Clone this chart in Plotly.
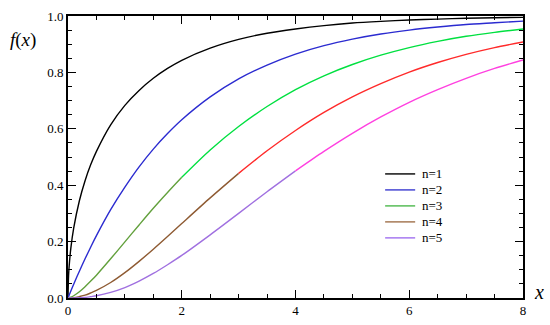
import plotly.graph_objects as go

# x positions at which the curves were read
x_vals = [0, 0.01, 0.02, 0.05, 0.1, 0.2, 0.3, 0.4, 0.5, 0.75, 1, 1.25, 1.5, 1.75,
          2, 2.5, 3, 3.5, 4, 4.5, 5, 5.5, 6, 6.5, 7, 7.5, 8]

n1 = [0, 0.080, 0.112, 0.177, 0.248, 0.345, 0.416, 0.473, 0.520, 0.614, 0.683, 0.736,
      0.779, 0.814, 0.843, 0.886, 0.917, 0.939, 0.954, 0.966, 0.975, 0.981, 0.986,
      0.989, 0.992, 0.994, 0.995]
n2 = [0, 0.005, 0.010, 0.025, 0.049, 0.095, 0.139, 0.181, 0.221, 0.313, 0.393, 0.465,
      0.528, 0.583, 0.632, 0.713, 0.777, 0.826, 0.865, 0.895, 0.918, 0.936, 0.950,
      0.961, 0.970, 0.976, 0.982]
n3 = [0, 0.0003, 0.0008, 0.003, 0.008, 0.022, 0.040, 0.060, 0.081, 0.139, 0.199, 0.259,
      0.318, 0.374, 0.428, 0.525, 0.608, 0.679, 0.739, 0.788, 0.828, 0.861, 0.888,
      0.910, 0.928, 0.942, 0.954]
n4 = [0, 0.0000, 0.0001, 0.0003, 0.001, 0.005, 0.010, 0.018, 0.027, 0.055, 0.090, 0.130,
      0.173, 0.218, 0.264, 0.355, 0.442, 0.522, 0.594, 0.658, 0.713, 0.760, 0.801,
      0.835, 0.864, 0.888, 0.908]
n5 = [0, 0.0000, 0.0000, 0.0001, 0.0002, 0.001, 0.002, 0.005, 0.008, 0.020, 0.037, 0.060,
      0.087, 0.118, 0.151, 0.224, 0.300, 0.377, 0.451, 0.520, 0.584, 0.642, 0.694,
      0.739, 0.779, 0.814, 0.844]

series_names = ["n=1", "n=2", "n=3", "n=4", "n=5"]
series_vals = [n1, n2, n3, n4, n5]
# lower-part colour and upper-part colour of each curve, plus legend swatch colour
low_colors = ["#000000", "#2b2bd0", "#62a03c", "#8e5a32", "#a070e0"]
high_colors = ["#000000", "#2b2bd0", "#00e040", "#ff2a2a", "#ff40e0"]
legend_colors = ["#000000", "#3a3ad0", "#4cb84c", "#a0704a", "#a070f0"]
# x at which each curve changes colour
split_x = [8, 8, 2, 3, 4]

serif = "Liberation Serif, Times New Roman, serif"

fig = go.Figure()
for name, ys, lc, hc, sx in zip(series_names, series_vals, low_colors, high_colors, split_x):
    lx = [x for x in x_vals if x <= sx]
    ly = [y for x, y in zip(x_vals, ys) if x <= sx]
    fig.add_trace(go.Scatter(x=lx, y=ly, mode="lines", name=name,
                             line=dict(color=lc, width=1.4, shape="spline", smoothing=0.8),
                             showlegend=False))
    if sx < 8:
        hx = [x for x in x_vals if x >= sx]
        hy = [y for x, y in zip(x_vals, ys) if x >= sx]
        fig.add_trace(go.Scatter(x=hx, y=hy, mode="lines", name=name,
                                 line=dict(color=hc, width=1.4, shape="spline", smoothing=0.8),
                                 showlegend=False))

# compact legend drawn as swatch lines + text (paper coordinates)
leg_x0, leg_x1, leg_tx = 0.697, 0.763, 0.774
leg_y0, leg_dy = 0.440, 0.0567
for i, (name, col) in enumerate(zip(series_names, legend_colors)):
    yy = leg_y0 - i * leg_dy
    fig.add_shape(type="line", xref="paper", yref="paper",
                  x0=leg_x0, x1=leg_x1, y0=yy, y1=yy,
                  line=dict(color=col, width=1.4))
    fig.add_annotation(text=name, xref="paper", yref="paper", x=leg_tx, y=yy,
                       xanchor="left", yanchor="middle", showarrow=False,
                       font=dict(family=serif, size=13, color="black"))

axis_common = dict(
    showline=True, linecolor="black", linewidth=1.6, mirror="allticks",
    ticks="inside", ticklen=8, tickwidth=1.4, tickcolor="black",
    showgrid=False, zeroline=False, automargin=False,
    tickfont=dict(family=serif, size=13, color="black"),
)

fig.update_xaxes(range=[0, 8], tickvals=[0, 2, 4, 6, 8],
                 minor=dict(dtick=0.5, ticks="inside", ticklen=4, tickwidth=1.2,
                            tickcolor="black", showgrid=False),
                 **axis_common)
fig.update_yaxes(range=[0, 1], tickvals=[0, 0.2, 0.4, 0.6, 0.8, 1.0],
                 ticktext=["0.0", "0.2", "0.4", "0.6", "0.8", "1.0"],
                 minor=dict(dtick=0.05, ticks="inside", ticklen=4, tickwidth=1.2,
                            tickcolor="black", showgrid=False),
                 **axis_common)

fig.add_annotation(text="<i>f</i>(<i>x</i>)", xref="paper", yref="paper",
                   x=-0.099, y=0.915, xanchor="center", yanchor="middle",
                   showarrow=False, font=dict(family=serif, size=19, color="black"))
fig.add_annotation(text="<i>x</i>", xref="paper", yref="paper",
                   x=1.035, y=0.02, xanchor="center", yanchor="middle",
                   showarrow=False, font=dict(family=serif, size=20, color="black"))

fig.update_layout(
    width=550, height=325,
    margin=dict(l=68, r=27, t=16, b=27),
    paper_bgcolor="white", plot_bgcolor="white",
    showlegend=False,
)

fig.write_html("out.html", config={"displayModeBar": False},
               post_script="document.body.style.margin='0';document.body.style.overflow='hidden';")
